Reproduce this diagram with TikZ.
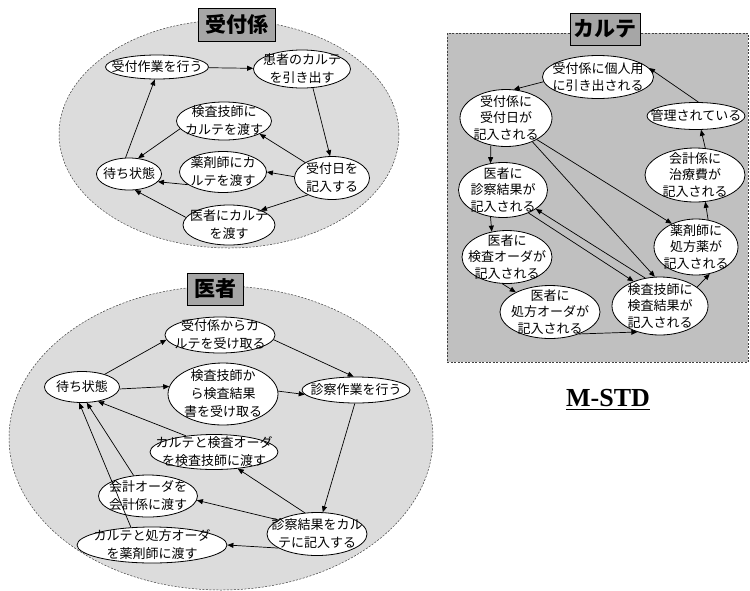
\documentclass[tikz,border=0pt]{standalone}
\usepackage{fontspec}
\setmainfont{Liberation Serif}
\newfontfamily\jp{Noto Sans CJK JP}
\usetikzlibrary{shapes.geometric,arrows.meta}
\definecolor{bgell}{HTML}{DCDCDC}
\definecolor{bgpanel}{HTML}{C0C0C0}
\definecolor{ttl}{HTML}{A6A6A6}
\newcommand\enode[6]{\node[ebox,minimum width=#4pt,minimum height=#5pt] (#1) at (#2,#3) {};\node[etxt] (#1-t) at (#1) {#6};}
\begin{document}
\begin{tikzpicture}[x=1pt,y=-1pt,
  ebox/.style={ellipse, draw, fill=white, inner sep=0pt, line width=0.8pt},
  etxt/.style={align=center, inner sep=0pt, font=\jp\fontsize{13}{18}\selectfont},
  ttlbox/.style={rectangle, draw, fill=ttl, line width=0.9pt, inner sep=0pt, font=\jp\bfseries\fontsize{21}{24}\selectfont},
  arr/.style={-{Triangle[length=6pt,width=5pt]}, line width=0.7pt},
  bgline/.style={draw=black!75, line width=0.5pt, dash pattern=on 2pt off 1.5pt}]
\useasboundingbox (0,0) rectangle (750,590);

% backgrounds
\path[bgline, fill=bgell] (229,134) ellipse [x radius=170, y radius=114];
\path[bgline, fill=bgell] (221,438) ellipse [x radius=212, y radius=152];
\path[bgline, fill=bgpanel] (447,33) rectangle (748,362);

% titles
\node[ttlbox, minimum width=77pt, minimum height=33pt] (t1) at (236.5,24.5) {受付係};
\node[ttlbox, minimum width=56pt, minimum height=32pt] (t2) at (215,289) {医者};
\node[ttlbox, minimum width=70pt, minimum height=32pt] (t3) at (605,29) {カルテ};

% ---- 受付係 ----
\enode{u1}{157}{67}{103}{24}{受付作業を行う}
\enode{u2}{302}{69}{97}{38}{患者のカルテ\\を引き出す}
\enode{u3}{224}{121}{95}{38}{検査技師に\\カルテを渡す}
\enode{u0}{129}{174}{65}{32}{待ち状態}
\enode{u4}{223}{172}{87}{41}{薬剤師にカ\\ルテを渡す}
\enode{u5}{332}{178}{75}{43}{受付日を\\記入する}
\enode{u6}{229}{225}{92}{40}{医者にカルテ\\を渡す}

\draw[arr] (u1) -- (u2);
\draw[arr] (u2.-60) -- (u5.95);
\draw[arr] (u5.150) -- (u3.-20);
\draw[arr] (u5.178) -- (u4.0);
\draw[arr] (u5.215) -- (u6.25);
\draw[arr] (u3.190) -- (u0.60);
\draw[arr] (u4.200) -- (u0.-15);
\draw[arr] (u6.170) -- (u0.-70);
\draw[arr] (u0.102) -- (u1.-100);

% ---- 医者 ----
\enode{d0}{82}{387}{75}{31}{待ち状態}
\enode{d1}{220}{335}{110}{36}{受付係からカ\\ルテを受け取る}
\enode{d2}{223}{394}{110}{62}{検査技師か\\ら検査結果\\書を受け取る}
\enode{d3}{356}{390}{108}{26}{診察作業を行う}
\enode{d4}{214}{452}{128}{35}{カルテと検査オーダ\\を検査技師に渡す}
\enode{d5}{148}{496}{99}{42}{会計オーダを\\会計係に渡す}
\enode{d6}{317}{534}{100}{43}{診察結果をカル\\テに記入する}
\enode{d7}{152}{545}{150}{36}{カルテと処方オーダ\\を薬剤師に渡す}

\draw[arr] (d0) -- (d1.185);
\draw[arr] (d0.-3) -- (d2.172);
\draw[arr] (d1.-5) -- (d3.100);
\draw[arr] (d2.3) -- (d3.185);
\draw[arr] (d3.-95) -- (d6.75);
\draw[arr] (d6.120) -- (d4.-35);
\draw[arr] (d6.160) -- (d5.-5);
\draw[arr] (d6.200) -- (d7.0);
\draw[arr] (d4.150) -- (d0.-42);
\draw[arr] (d5.125) -- (d0.-73);
\draw[arr] (d7.140) -- (d0.-100);

% ---- カルテ ----
\tikzset{etxt/.style={align=center, inner sep=0pt, font=\jp\fontsize{13}{16.5}\selectfont}}
\enode{k1}{598}{77}{111}{43}{受付係に個人用\\に引き出される}
\enode{k2}{506}{118}{92}{57}{受付係に\\受付日が\\記入される}
\enode{k3}{696}{116}{98}{27}{管理されている}
\enode{k4}{503}{190}{89}{55}{医者に\\診察結果が\\記入される}
\enode{k5}{695}{175}{100}{54}{会計係に\\治療費が\\記入される}
\enode{k6}{507}{257}{90}{53}{医者に\\検査オーダが\\記入される}
\enode{k7}{696}{247}{84}{56}{薬剤師に\\処方薬が\\記入される}
\enode{k8}{550}{312}{100}{53}{医者に\\処方オーダが\\記入される}
\enode{k9}{660}{306}{96}{58}{検査技師に\\検査結果が\\記入される}

\draw[arr] (k1.185) -- (k2.75);
\draw[arr] (k2.-119) -- (k4.115);
\draw[arr] (k4.-115) -- (k6.121);
\draw[arr] (k6.-100) -- (k8.150);
\draw[arr] (k8.-37) -- (k9.229);
\draw[arr] (k2.-35) -- (k7.136);
\draw[arr] (k2.-42) -- (k9.100);
\draw[arr] (k4.-42) -- (k9.137);
\draw[arr] (k9.118) -- (k4.-30);
\draw[arr] (k9.27) -- (k7.-63);
\draw[arr] (k7.66) -- (k5.-69);
\draw[arr] (k5.69) -- (k3.-70);
\draw[arr] (k3.80) -- (k1.10);

% label
\node[inner sep=0pt, font=\bfseries\fontsize{26}{30}\selectfont] (mstd) at (608,398) {M-STD};
\draw[line width=1.6pt] ([yshift=-3pt]mstd.base west) -- ([yshift=-3pt]mstd.base east);
\end{tikzpicture}
\end{document}
